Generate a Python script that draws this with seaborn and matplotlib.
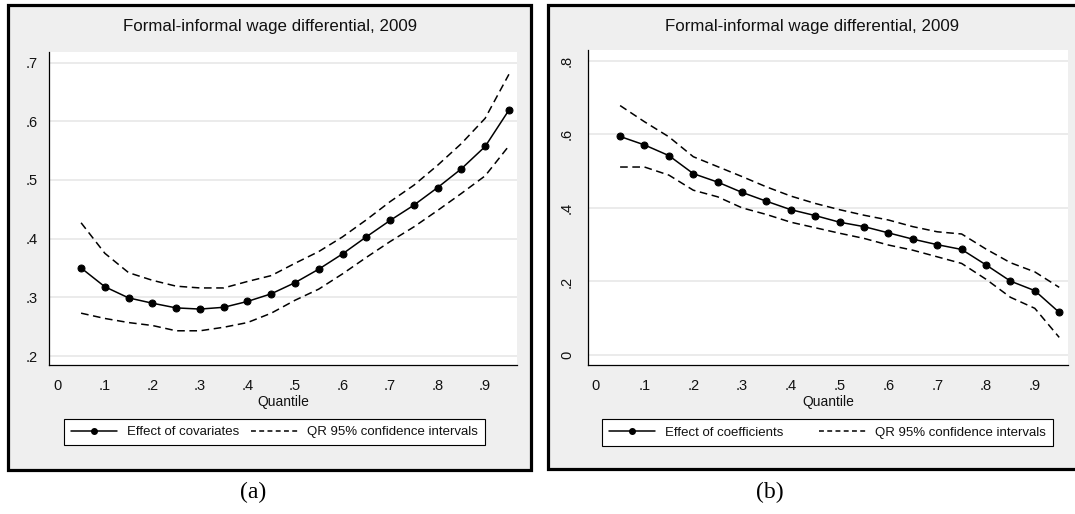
import matplotlib
matplotlib.use("Agg")
import matplotlib.pyplot as plt
from matplotlib.patches import Rectangle
from matplotlib.lines import Line2D
import seaborn as sns
import pandas as pd

# ---------------- data ----------------
quantiles = [0.05, 0.10, 0.15, 0.20, 0.25, 0.30, 0.35, 0.40, 0.45, 0.50,
             0.55, 0.60, 0.65, 0.70, 0.75, 0.80, 0.85, 0.90, 0.95]

cov_effect = [0.350, 0.318, 0.299, 0.290, 0.282, 0.280, 0.283, 0.293, 0.306, 0.325,
              0.348, 0.374, 0.403, 0.431, 0.457, 0.487, 0.519, 0.557, 0.619]
cov_upper = [0.427, 0.375, 0.342, 0.329, 0.319, 0.316, 0.316, 0.327, 0.337, 0.358,
             0.378, 0.403, 0.432, 0.463, 0.491, 0.525, 0.562, 0.605, 0.680]
cov_lower = [0.273, 0.264, 0.257, 0.252, 0.243, 0.243, 0.249, 0.257, 0.273, 0.295,
             0.314, 0.340, 0.368, 0.395, 0.420, 0.448, 0.477, 0.507, 0.558]

coef_effect = [0.594, 0.571, 0.542, 0.493, 0.470, 0.442, 0.418, 0.395, 0.379, 0.361,
               0.349, 0.332, 0.315, 0.300, 0.287, 0.245, 0.201, 0.175, 0.116]
coef_upper = [0.678, 0.634, 0.593, 0.539, 0.512, 0.485, 0.457, 0.432, 0.412, 0.395,
              0.380, 0.367, 0.349, 0.335, 0.329, 0.288, 0.251, 0.226, 0.184]
coef_lower = [0.511, 0.511, 0.489, 0.448, 0.430, 0.400, 0.382, 0.361, 0.346, 0.331,
              0.317, 0.299, 0.285, 0.267, 0.249, 0.206, 0.157, 0.127, 0.048]

title_text = "Formal-informal wage differential, 2009"
xticks = [0, 0.1, 0.2, 0.3, 0.4, 0.5, 0.6, 0.7, 0.8, 0.9]
xtick_labels = ["0", ".1", ".2", ".3", ".4", ".5", ".6", ".7", ".8", ".9"]
yticks_a = [0.2, 0.3, 0.4, 0.5, 0.6, 0.7]
ytick_labels_a = [".2", ".3", ".4", ".5", ".6", ".7"]
yticks_b = [0.0, 0.2, 0.4, 0.6, 0.8]
ytick_labels_b = ["0", ".2", ".4", ".6", ".8"]
legend_main_a = "Effect of covariates"
legend_main_b = "Effect of coefficients"
legend_ci = "QR 95% confidence intervals"

# ---------------- style ----------------
sns.set_theme(style="white")
plt.rcParams["font.family"] = ["Liberation Sans", "DejaVu Sans"]

W, H = 1075, 514
fig = plt.figure(figsize=(W / 100, H / 100), dpi=100)
fig.patch.set_facecolor("white")

def fx(x):
    return x / W

def fy(y):
    return 1 - y / H

def px_axes(x0, y0, x1, y1):
    ax = fig.add_axes([fx(x0), fy(y1), fx(x1) - fx(x0), (y1 - y0) / H])
    ax.set_zorder(2)
    return ax

PANEL_BG = "#efefef"
GRID = "#e6e6e6"
DASH = (0, (5, 3))

# panel frames
for (x0, y0, x1, y1) in [(7.5, 5, 531, 470), (547.5, 4.5, 1079, 469)]:
    fig.patches.append(Rectangle((fx(x0), fy(y1)), fx(x1) - fx(x0), (y1 - y0) / H,
                                 transform=fig.transFigure, facecolor=PANEL_BG,
                                 edgecolor="black", linewidth=2.3, zorder=-5))

def draw_panel(ax, main, upper, lower, ylim, yticks, ylabels, rotate_y):
    df = pd.DataFrame({"q": quantiles, "main": main, "up": upper, "lo": lower})
    sns.lineplot(data=df, x="q", y="up", ax=ax, color="black", linewidth=1.1,
                 linestyle=DASH)
    sns.lineplot(data=df, x="q", y="lo", ax=ax, color="black", linewidth=1.1,
                 linestyle=DASH)
    sns.lineplot(data=df, x="q", y="main", ax=ax, color="black", linewidth=1.1,
                 marker="o", markersize=5, markeredgecolor="black",
                 markerfacecolor="black")
    ax.set_facecolor("white")
    ax.set_ylim(*ylim)
    ax.set_yticks(yticks)
    if rotate_y:
        ax.set_yticklabels(ylabels, rotation=90, va="center")
    else:
        ax.set_yticklabels(ylabels)
    ax.set_xticks(xticks)
    ax.set_xticklabels(xtick_labels)
    ax.yaxis.grid(True, color=GRID, linewidth=1.1)
    ax.set_axisbelow(True)
    for s in ["top", "right"]:
        ax.spines[s].set_visible(False)
    for s in ["left", "bottom"]:
        ax.spines[s].set_color("black")
        ax.spines[s].set_linewidth(0.9)
    ax.tick_params(axis="both", which="major", direction="out", length=5,
                   width=0.8, color="black", labelsize=10.5, labelcolor="#111111")
    ax.tick_params(axis="x", pad=5)
    ax.tick_params(axis="y", pad=3 if not rotate_y else 5)
    ax.set_xlabel("Quantile", fontsize=10, labelpad=1.5, color="#111111")
    ax.set_ylabel("")

ax_a = px_axes(49, 52, 517, 365)
draw_panel(ax_a, cov_effect, cov_upper, cov_lower, (0.1847, 0.718),
           yticks_a, ytick_labels_a, False)
ax_a.set_xlim(-0.0175, 0.967)

ax_b = px_axes(588, 50, 1068, 365)
draw_panel(ax_b, coef_effect, coef_upper, coef_lower, (-0.027, 0.829),
           yticks_b, ytick_labels_b, True)
ax_b.set_xlim(-0.0158, 0.968)

# titles
fig.text(fx(270), fy(27), title_text, ha="center", va="center", fontsize=12.2,
         color="#111111")
fig.text(fx(812), fy(27), title_text, ha="center", va="center", fontsize=12.2,
         color="#111111")

# legends
def make_legend(ax, label_main, x0, y0, x1, y1):
    h_main = Line2D([], [], color="black", linewidth=1.1, marker="o", markersize=4)
    h_ci = Line2D([], [], color="black", linewidth=1.1, linestyle=(0, (3.2, 2.2)))
    leg = ax.legend([h_main, h_ci], [label_main, legend_ci], ncol=2,
                    loc="center", mode="expand",
                    bbox_to_anchor=(fx(x0), fy(y1), fx(x1) - fx(x0), (y1 - y0) / H),
                    bbox_transform=fig.transFigure, fontsize=9.5, frameon=True,
                    fancybox=False, edgecolor="black", framealpha=1,
                    handlelength=3.5, handletextpad=0.7, columnspacing=1.0,
                    borderpad=0.55, borderaxespad=0)
    leg.get_frame().set_linewidth(0.8)
    leg.get_frame().set_facecolor("white")
    for t in leg.get_texts():
        t.set_color("#111111")

make_legend(ax_a, legend_main_a, 64, 417, 485, 447)
make_legend(ax_b, legend_main_b, 602, 417, 1053, 448)

# panel captions
fig.text(fx(253), fy(492), "(a)", ha="center", va="center", fontsize=17,
         family=["Liberation Serif", "DejaVu Serif"], color="black")
fig.text(fx(770), fy(492), "(b)", ha="center", va="center", fontsize=17,
         family=["Liberation Serif", "DejaVu Serif"], color="black")

fig.savefig("out.png", dpi=100, facecolor="white")
